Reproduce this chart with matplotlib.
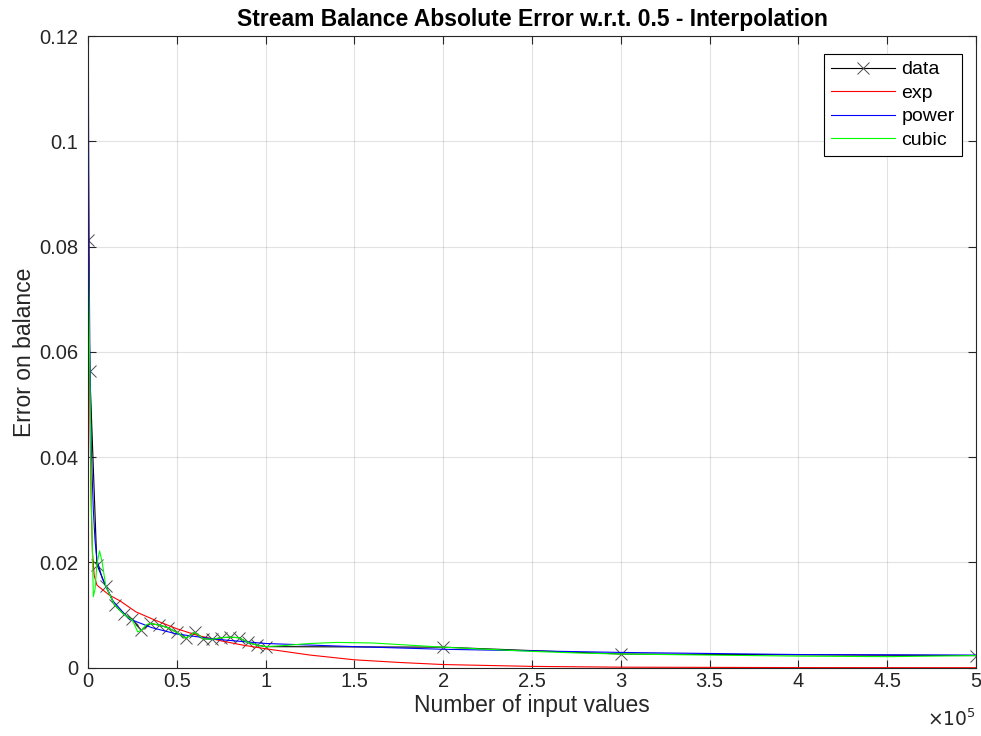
import numpy as np
import matplotlib
matplotlib.use("Agg")
import matplotlib.pyplot as plt

plt.rcParams['font.family'] = ['Liberation Sans', 'DejaVu Sans']

# measured balance error
data_x = [100, 1000, 5000, 10000, 15000, 20000, 25000, 30000, 35000, 40000,
          45000, 50000, 55000, 60000, 65000, 70000, 75000, 80000, 85000, 90000,
          95000, 100000, 200000, 300000, 500000]
data_y = [0.0813, 0.0563, 0.0196, 0.0155, 0.0119, 0.0102, 0.0092, 0.0071, 0.0084, 0.0081,
          0.0076, 0.0067, 0.0056, 0.0067, 0.0055, 0.0054, 0.0057, 0.0058, 0.0057, 0.0048,
          0.0043, 0.0040, 0.0039, 0.0026, 0.0023]

# exp fit
exp_x = [0, 300, 700, 1200, 1800, 2500, 3500, 5000, 7500, 12000, 18000, 27000, 38000,
         50000, 62000, 75000, 87000, 100000, 125000, 150000, 175000, 200000, 250000,
         300000, 400000, 500000]
exp_y = [0.117, 0.090, 0.065, 0.045, 0.031, 0.022, 0.0175, 0.0157, 0.0150, 0.0138, 0.0127,
         0.0106, 0.0090, 0.0074, 0.0061, 0.0051, 0.0043, 0.0036, 0.0024, 0.0015, 0.0010,
         0.0006, 0.00025, 0.0001, 0.00002, 0.0]

# power fit
pow_x = [150, 300, 600, 1000, 1500, 2000, 3000, 4000, 5000, 8000, 14000, 23000, 36000,
         50000, 72000, 100000, 150000, 200000, 300000, 350000, 400000, 500000]
pow_y = [0.130, 0.105, 0.080, 0.062, 0.048, 0.040, 0.030, 0.024, 0.0205, 0.0170, 0.0127,
         0.0093, 0.0076, 0.0064, 0.0054, 0.0046, 0.0040, 0.0035, 0.0029, 0.0027, 0.0025,
         0.0024]

# cubic interpolation
cub_x = [0, 100, 1000, 2000, 3000, 4000, 5000, 6500, 8000, 10000, 15000, 20000, 25000,
         28000, 30000, 33000, 35000, 40000, 45000, 50000, 55000, 60000, 65000, 70000,
         75000, 80000, 85000, 90000, 95000, 100000, 110000, 125000, 140000, 160000,
         180000, 200000, 225000, 250000, 275000, 300000, 350000, 400000, 450000, 500000]
cub_y = [0.114, 0.0813, 0.0563, 0.030, 0.0135, 0.0150, 0.0196, 0.0222, 0.0200, 0.0155,
         0.0119, 0.0102, 0.0090, 0.0068, 0.0071, 0.0082, 0.0084, 0.0081, 0.0076, 0.0067,
         0.0056, 0.0067, 0.0055, 0.0054, 0.0057, 0.0058, 0.0057, 0.0048, 0.0043, 0.0040,
         0.0042, 0.0046, 0.0048, 0.0047, 0.0043, 0.0039, 0.0035, 0.0031, 0.0028, 0.0026,
         0.0024, 0.0022, 0.0021, 0.0023]

axcol = (0.15, 0.15, 0.15)

fig = plt.figure(figsize=(9.81, 7.36), dpi=100)
ax = fig.add_axes([88/981, 1-667.7/736, (976-88)/981, (667.7-36)/736])

ax.plot(data_x, data_y, 'k-', marker='x', markersize=8, markeredgewidth=0.7,
        markeredgecolor='0.3', linewidth=0.8, label='data')
ax.plot(exp_x, exp_y, color='r', linewidth=0.8, label='exp')
ax.plot(pow_x, pow_y, color='b', linewidth=0.8, label='power')
ax.plot(cub_x, cub_y, color=(0, 1, 0), linewidth=0.8, label='cubic')

ax.set_xlim(0, 500000)
ax.set_ylim(0, 0.12)

xt = np.arange(0, 500001, 50000)
ax.set_xticks(xt)
ax.set_xticklabels(['0', '0.5', '1', '1.5', '2', '2.5', '3', '3.5', '4', '4.5', '5'])
yt = [0, 0.02, 0.04, 0.06, 0.08, 0.1, 0.12]
ax.set_yticks(yt)
ax.set_yticklabels(['0', '0.02', '0.04', '0.06', '0.08', '0.1', '0.12'])

ax.grid(True, color=axcol, alpha=0.13, linewidth=0.8)
ax.set_axisbelow(True)
ax.tick_params(direction='in', length=6, width=0.8, colors=axcol,
               top=True, right=True, labelsize=14.5)
ax.tick_params(axis='x', pad=3)
ax.tick_params(axis='y', pad=7)
for s in ax.spines.values():
    s.set_color(axcol)
    s.set_linewidth(0.8)

ax.set_xlabel('Number of input values', fontsize=16.5, color=axcol, labelpad=2)
ax.set_ylabel('Error on balance', fontsize=16.5, color=axcol, labelpad=2)
ax.set_title('Stream Balance Absolute Error w.r.t. 0.5 - Interpolation',
             fontsize=16.5, fontweight='bold', color='black', pad=7)
ax.text(1.0, -0.082, r'$\times10^{5}$', transform=ax.transAxes, ha='right', va='center',
        fontsize=13.5, color=axcol)

leg = ax.legend(loc='upper right', fontsize=14, frameon=True, fancybox=False,
                edgecolor='black', framealpha=1, handlelength=3.3, handletextpad=0.35,
                borderpad=0.35, labelspacing=0.3, numpoints=1, borderaxespad=0,
                bbox_to_anchor=(0.984, 0.9715))
leg.get_frame().set_linewidth(0.8)

fig.savefig('out.png', dpi=100)
